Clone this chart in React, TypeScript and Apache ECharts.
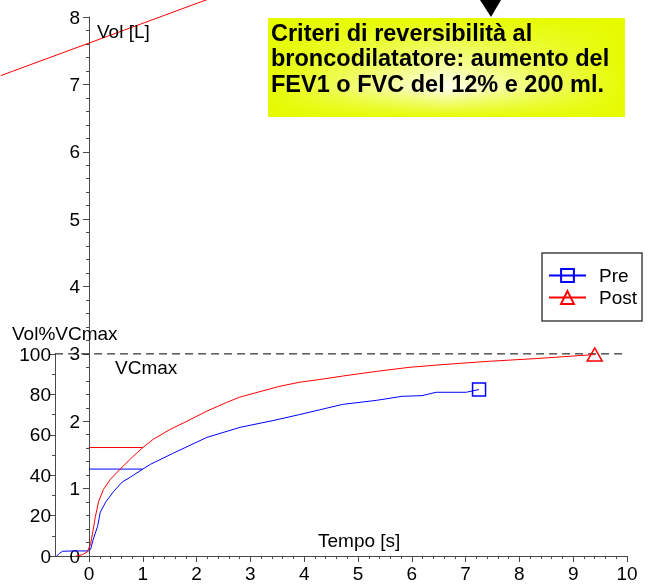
import React, { useEffect, useRef } from 'react';
import * as echarts from 'echarts';

// Pre-bronchodilator curve: time [s] and volume [L]
const preT = [-0.6, -0.55, -0.49, -0.3, -0.01, 0.03, 0.08, 0.16, 0.21, 0.31, 0.45, 0.62, 0.77, 1.0, 1.14, 1.32, 1.55, 2.19, 2.81, 3.42, 3.92, 4.29, 4.71, 5.34, 5.82, 6.19, 6.45, 7.01, 7.25];
const preV = [0.0, 0.04, 0.07, 0.075, 0.075, 0.1, 0.25, 0.44, 0.65, 0.8, 0.95, 1.1, 1.17, 1.29, 1.36, 1.43, 1.52, 1.76, 1.91, 2.01, 2.1, 2.17, 2.25, 2.31, 2.37, 2.38, 2.43, 2.43, 2.47];
// Post-bronchodilator curve
const postT = [-0.24, -0.12, -0.03, 0.03, 0.08, 0.12, 0.18, 0.27, 0.4, 0.58, 0.77, 1.0, 1.19, 1.51, 1.82, 2.19, 2.56, 2.81, 3.18, 3.55, 3.92, 4.29, 4.71, 5.34, 5.95, 6.56, 7.44, 8.31, 9.4];
const postV = [0.0, 0.02, 0.06, 0.18, 0.4, 0.59, 0.81, 0.99, 1.14, 1.29, 1.44, 1.61, 1.73, 1.88, 2.0, 2.15, 2.28, 2.36, 2.44, 2.52, 2.58, 2.62, 2.67, 2.74, 2.8, 2.84, 2.89, 2.93, 2.99];
// FEV1 markers (volume at 1 s)
const fev1Time = [0, 1];
const fev1Pre = 1.29;
const fev1Post = 1.61;
// VCmax reference (100 % = 3 L)
const vcmaxTime = [-0.63, 10];
const vcmaxVol = 3;
// stray straight red line at top left
const refLineT = [-1.64, 2.2];
const refLineV = [7.13, 8.26];
const legendNames = ['Pre', 'Post'];

// layout: the drawing grid starts at the page's left edge, where time is T_LEFT
const T_LEFT = -1.654;

const FONT = '"Liberation Sans", Arial, sans-serif';
const AXIS = '#4a4a4a';

export default function App() {
  const ref = useRef<HTMLDivElement>(null);
  useEffect(() => {
    if (!ref.current) return;
    const chart = echarts.init(ref.current, undefined, { renderer: 'svg' });
    const curve = (ts: number[], vs: number[]) =>
      ts.map((t, i) => (i === ts.length - 1 ? { value: [t, vs[i]] } : { value: [t, vs[i]], symbol: 'none' }));
    const lineAxis = { show: true, onZero: false, lineStyle: { color: AXIS, width: 1 } };
    const tick = { show: true, length: 6, lineStyle: { color: AXIS } };
    const label = { fontSize: 19, color: '#000', fontFamily: FONT };
    const hiddenAxis = { show: false, type: 'value' };
    chart.setOption({
      animation: false,
      grid: [
        { left: 0, right: 24, top: 17, bottom: 28 },
        { left: 55, width: 34, top: 354, bottom: 28 },
        { left: 89, right: 24, top: 17, bottom: 28 },
      ],
      xAxis: [
        { ...hiddenAxis, gridIndex: 0, min: T_LEFT, max: 10 },
        {
          gridIndex: 1, type: 'value', min: 0, max: 1,
          axisLine: lineAxis, axisTick: { show: false }, axisLabel: { show: false }, splitLine: { show: false },
        },
        {
          gridIndex: 2, type: 'value', min: 0, max: 10, interval: 1,
          axisLine: lineAxis, axisTick: tick,
          minorTick: { show: true, splitNumber: 5, length: 3, lineStyle: { color: AXIS } },
          axisLabel: { ...label, margin: 8 },
          splitLine: { show: false }, minorSplitLine: { show: false },
        },
      ],
      yAxis: [
        { ...hiddenAxis, gridIndex: 0, min: 0, max: 8 },
        {
          gridIndex: 1, type: 'value', min: 0, max: 100, interval: 20,
          axisLine: lineAxis, axisTick: tick,
          minorTick: { show: true, splitNumber: 2, length: 3, lineStyle: { color: AXIS } },
          axisLabel: { ...label, margin: 4 },
          splitLine: { show: false }, minorSplitLine: { show: false },
        },
        {
          gridIndex: 2, type: 'value', min: 0, max: 8, interval: 1,
          axisLine: lineAxis, axisTick: tick,
          minorTick: { show: true, splitNumber: 5, length: 3, lineStyle: { color: AXIS } },
          axisLabel: { ...label, margin: 9 },
          splitLine: { show: false }, minorSplitLine: { show: false },
        },
      ],
      legend: {
        data: legendNames, orient: 'vertical', left: 542, top: 253,
        itemWidth: 37, itemHeight: 16, itemGap: 3, padding: [13, 5, 14, 6],
        borderColor: '#444', borderWidth: 1.5, backgroundColor: '#fff',
        selectedMode: false,
        textStyle: { fontSize: 19, color: '#000', fontFamily: FONT, padding: [0, 0, 0, 8] },
      },
      series: [
        {
          name: legendNames[0], type: 'line', clip: false, data: curve(preT, preV),
          symbol: 'rect', symbolSize: 13,
          lineStyle: { color: '#0000ff', width: 1 },
          itemStyle: { color: 'rgba(0,0,0,0)', borderColor: '#0000ff', borderWidth: 1.5 },
          z: 5,
        },
        {
          name: legendNames[1], type: 'line', clip: false, data: curve(postT, postV),
          symbol: 'triangle', symbolSize: [15, 13],
          lineStyle: { color: '#ff0000', width: 1 },
          itemStyle: { color: 'rgba(0,0,0,0)', borderColor: '#ff0000', borderWidth: 1.5 },
          z: 5,
        },
        {
          type: 'line', symbol: 'none', data: fev1Time.map((t) => [t, fev1Pre]),
          lineStyle: { color: '#0000ff', width: 1 }, silent: true,
        },
        {
          type: 'line', symbol: 'none', data: fev1Time.map((t) => [t, fev1Post]),
          lineStyle: { color: '#ff0000', width: 1 }, silent: true,
        },
        {
          type: 'line', symbol: 'none', clip: false, data: vcmaxTime.map((t) => [t, vcmaxVol]),
          lineStyle: { color: '#000', width: 1, type: [8, 5] }, silent: true, z: 1,
        },
        {
          type: 'line', symbol: 'none', clip: false, data: refLineT.map((t, i) => [t, refLineV[i]]),
          lineStyle: { color: '#ff0000', width: 1 }, silent: true,
        },
      ],
      graphic: [
        {
          type: 'rect', z: 50, shape: { x: 268, y: 18, width: 357, height: 99 },
          style: {
            fill: new echarts.graphic.LinearGradient(0, 0, 0, 1, [
              { offset: 0, color: '#e6fb00' },
              { offset: 0.7, color: '#fdfff0' },
              { offset: 1, color: '#e6fb00' },
            ]),
          },
        },
        {
          type: 'rect', z: 51, shape: { x: 268, y: 18, width: 357, height: 99 },
          style: {
            fill: new echarts.graphic.LinearGradient(0, 0, 1, 0, [
              { offset: 0, color: 'rgba(230,251,0,1)' },
              { offset: 0.5, color: 'rgba(230,251,0,0)' },
              { offset: 1, color: 'rgba(230,251,0,1)' },
            ]),
          },
        },
        {
          type: 'text', z: 52, x: 271, y: 20,
          style: {
            text: 'Criteri di reversibilità al\nbroncodilatatore: aumento del\nFEV1 o FVC del 12% e 200 ml.',
            font: `bold 23.5px ${FONT}`, lineHeight: 25.5, fill: '#000',
          },
        },
        { type: 'polygon', z: 52, shape: { points: [[480, 0], [501, 0], [491, 17]] }, style: { fill: '#000' } },
        { type: 'text', z: 52, x: 97, y: 31, style: { text: 'Vol [L]', font: `19px ${FONT}`, fill: '#000', verticalAlign: 'middle' } },
        { type: 'text', z: 52, x: 12, y: 333, style: { text: 'Vol%VCmax', font: `19px ${FONT}`, fill: '#000', verticalAlign: 'middle' } },
        { type: 'text', z: 52, x: 318, y: 540, style: { text: 'Tempo [s]', font: `19px ${FONT}`, fill: '#000', verticalAlign: 'middle' } },
        {
          type: 'text', z: 52, x: 114, y: 367,
          style: { text: 'VCmax', font: `19px ${FONT}`, fill: '#000', verticalAlign: 'middle', backgroundColor: '#fff', padding: [4, 1, 1, 1] },
        },
      ],
    });
    return () => chart.dispose();
  }, []);
  return <div ref={ref} style={{ position: 'fixed', left: 0, top: 0, width: 651, height: 584 }} />;
}
